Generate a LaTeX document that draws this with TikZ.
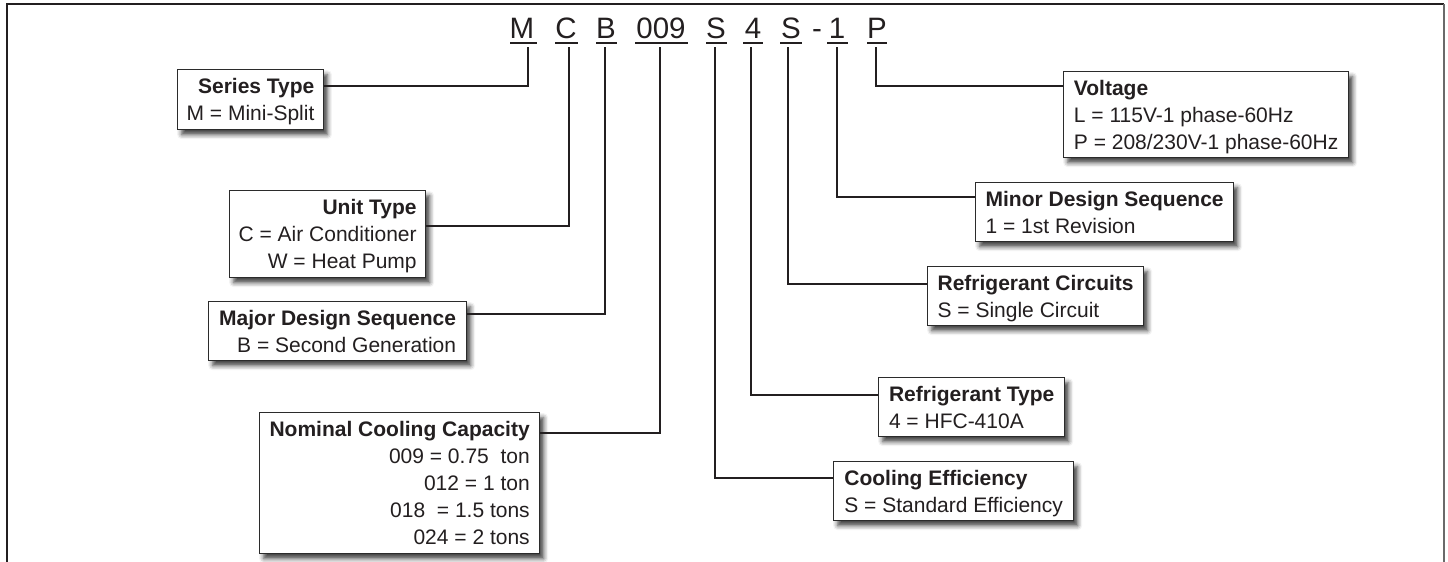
\documentclass[tikz,border=0pt]{standalone}
\usepackage{fontspec}
\setmainfont{Liberation Sans}
\usetikzlibrary{shadows.blur}
\definecolor{ink}{HTML}{231F20}
\definecolor{edge}{HTML}{2B2B2B}
\definecolor{framegray}{HTML}{6A6A6A}
\newcommand{\fl}{\rule{0pt}{20pt}}
\newcommand{\lastl}{\rule[-4.4pt]{0pt}{4.4pt}}
\tikzset{
  infobox/.style={draw=edge, line width=1.3pt, fill=white, text=ink,
    inner xsep=9pt, inner ysep=0pt, anchor=north west,
    font=\fontsize{21}{27}\selectfont,
    blur shadow={shadow xshift=4pt, shadow yshift=-5pt, shadow blur radius=4.5pt, shadow opacity=75}},
  rbox/.style={infobox, align=right},
  lbox/.style={infobox, align=left},
  codech/.style={anchor=base, inner sep=0pt, text=ink, font=\fontsize{29.5}{30}\selectfont},
  uline/.style={draw=ink, line width=2pt},
  conn/.style={draw=ink, line width=2pt},
}
\begin{document}
\begin{tikzpicture}[x=1pt,y=-1pt]
\useasboundingbox (0,0) rectangle (1448,562);
% frame
\draw[draw=ink, line width=1.6pt] (7,562) -- (7,4) -- (1444,4);
\draw[draw=framegray, line width=2.2pt] (1444,4) -- (1444,562);

% code characters
\node[codech] (cM) at (522,38) {M};
\node[codech] (cC) at (566,38) {C};
\node[codech] (cB) at (606,38) {B};
\node[codech] (c009) at (661,38) {009};
\node[codech] (cS1) at (716,38) {S};
\node[codech] (c4) at (753,38) {4};
\node[codech] (cS2) at (791,38) {S};
\node[codech] (cdash) at (817,38) {-};
\node[codech] (c1) at (837,38) {1};
\node[codech] (cP) at (877,38) {P};

% underlines
\draw[uline] (510,43) -- (537,43);
\draw[uline] (555,43) -- (578,43);
\draw[uline] (596,43) -- (617,43);
\draw[uline] (635,43) -- (688,43);
\draw[uline] (706,43) -- (727,43);
\draw[uline] (743,43) -- (763,43);
\draw[uline] (780,43) -- (802,43);
\draw[uline] (827,43) -- (848,43);
\draw[uline] (867,43) -- (887,43);

% boxes, left side
\node[rbox, minimum width=145pt, minimum height=60pt] (series) at (177,69)
  {\fl\textbf{Series Type}\\M = Mini-Split\lastl};
\node[rbox, minimum width=194pt, minimum height=87pt] (unit) at (229,190)
  {\fl\textbf{Unit Type}\\C = Air Conditioner\\W = Heat Pump\lastl};
\node[rbox, minimum width=258pt, minimum height=59pt] (major) at (208,301)
  {\fl\textbf{Major Design Sequence}\\B = Second Generation\lastl};
\node[rbox, minimum width=280pt, minimum height=141pt] (nominal) at (259,412)
  {\fl\textbf{Nominal Cooling Capacity}\\009 = 0.75~~ton\\012 = 1 ton\\018~~= 1.5 tons\\024 = 2 tons\lastl};

% boxes, right side
\node[lbox, minimum width=285pt, minimum height=86pt] (voltage) at (1063,71)
  {\fl\textbf{Voltage}\\L = 115V-1 phase-60Hz\\P = 208/230V-1 phase-60Hz\lastl};
\node[lbox, minimum width=258pt, minimum height=59pt] (minor) at (975,182)
  {\fl\textbf{Minor Design Sequence}\\1 = 1st Revision\lastl};
\node[lbox, minimum width=216pt, minimum height=59pt] (circuits) at (927,266)
  {\fl\textbf{Refrigerant Circuits}\\S = Single Circuit\lastl};
\node[lbox, minimum width=186pt, minimum height=59pt] (reftype) at (878,377)
  {\fl\textbf{Refrigerant Type}\\4 = HFC-410A\lastl};
\node[lbox, minimum width=240pt, minimum height=59pt] (effic) at (833,461)
  {\fl\textbf{Cooling Efficiency}\\S = Standard Efficiency\lastl};

% connector start points (below the underlines) and levels
\coordinate (tM) at (528,47);   \coordinate (hM) at (0,86);
\coordinate (tC) at (569,47);   \coordinate (hC) at (0,226);
\coordinate (tB) at (605,47);   \coordinate (hB) at (0,314);
\coordinate (t009) at (660,47); \coordinate (h009) at (0,433);
\coordinate (tS1) at (715,47);  \coordinate (hS1) at (0,478);
\coordinate (t4) at (751,47);   \coordinate (h4) at (0,395);
\coordinate (tS2) at (788,47);  \coordinate (hS2) at (0,284);
\coordinate (t1) at (837,47);   \coordinate (h1) at (0,197);
\coordinate (tP) at (876,47);   \coordinate (hP) at (0,86);

\draw[conn] (tM) |- (series.east |- hM);
\draw[conn] (tC) |- (unit.east |- hC);
\draw[conn] (tB) |- (major.east |- hB);
\draw[conn] (t009) |- (nominal.east |- h009);
\draw[conn] (tS1) |- (effic.west |- hS1);
\draw[conn] (t4) |- (reftype.west |- h4);
\draw[conn] (tS2) |- (circuits.west |- hS2);
\draw[conn] (t1) |- (minor.west |- h1);
\draw[conn] (tP) |- (voltage.west |- hP);
\end{tikzpicture}
\end{document}
